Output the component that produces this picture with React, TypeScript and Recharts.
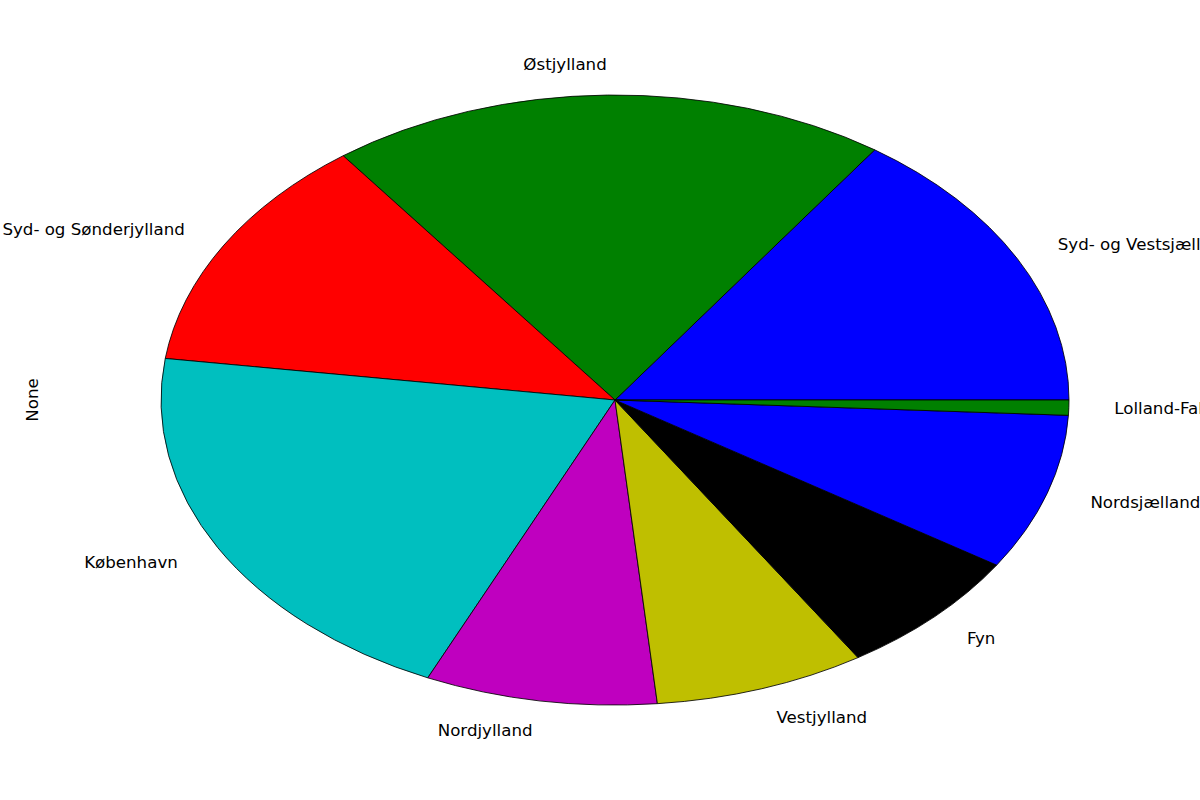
import React from 'react';
import { PieChart, Pie, Cell } from 'recharts';

const regions = [
    'Syd- og Vestsjælland',
    'Østjylland',
    'Syd- og Sønderjylland',
    'København',
    'Nordjylland',
    'Vestjylland',
    'Fyn',
    'Nordsjælland',
    'Lolland-Falster',
];
const shares = [15.3, 19.9, 12.6, 20.4, 8.25, 7.5, 6.9, 8.3, 0.8];
const colors = ['#0000ff', '#008000', '#ff0000', '#00bfbf', '#bf00bf', '#bfbf00', '#000000', '#0000ff', '#008000'];

const CX = 615;
const CY = 400;
const RX = 454;
const RY = 305;
const FONT = 'DejaVu Sans, sans-serif';
const NO_MARGIN = { top: 0, right: 0, bottom: 0, left: 0 };

const data = regions.map((name, i) => ({ name, value: shares[i] }));

// labels sit on an ellipse 1.1x the pie radius, like matplotlib's labeldistance
const EllipseLabel = (props: any) => {
    const rad = (props.midAngle * Math.PI) / 180;
    const x = CX + 1.1 * RX * Math.cos(rad);
    const y = CY - 1.1 * RY * Math.sin(rad);
    return (
        <text
            x={x}
            y={y}
            textAnchor={Math.cos(rad) > 0 ? 'start' : 'end'}
            dominantBaseline="central"
            fontFamily={FONT}
            fontSize={16.67}
            fill="#000"
        >
            {props.name}
        </text>
    );
};

export default function App() {
    return (
        <div style={{ position: 'absolute', left: 0, top: 0, width: 1200, height: 800, background: '#fff', overflow: 'hidden' }}>
            {/* circular pie squashed vertically into an ellipse */}
            <div
                style={{
                    position: 'absolute', left: 0, top: -100, width: 1200, height: 1000,
                    transform: `scaleY(${RY / RX})`, transformOrigin: '0px 500px',
                }}
            >
                <PieChart width={1200} height={1000} margin={NO_MARGIN}>
                    <Pie
                        data={data}
                        dataKey="value"
                        cx={CX}
                        cy={500}
                        innerRadius={0}
                        outerRadius={RX}
                        startAngle={0}
                        endAngle={360}
                        paddingAngle={0}
                        stroke="#000"
                        strokeWidth={1}
                        isAnimationActive={false}
                    >
                        {data.map((d, i) => (
                            <Cell key={d.name} fill={colors[i]} vectorEffect="non-scaling-stroke" />
                        ))}
                    </Pie>
                </PieChart>
            </div>
            <div style={{ position: 'absolute', left: 0, top: 0, width: 1200, height: 800 }}>
                <PieChart width={1200} height={800} margin={NO_MARGIN}>
                    <Pie
                        data={data}
                        dataKey="value"
                        cx={CX}
                        cy={CY}
                        outerRadius={RX}
                        startAngle={0}
                        endAngle={360}
                        fill="none"
                        stroke="none"
                        label={EllipseLabel}
                        labelLine={false}
                        isAnimationActive={false}
                    >
                        {data.map((d) => (
                            <Cell key={d.name} fill="none" stroke="none" />
                        ))}
                    </Pie>
                    <text
                        x={32}
                        y={CY}
                        transform={`rotate(-90 32 ${CY})`}
                        textAnchor="middle"
                        dominantBaseline="central"
                        fontFamily={FONT}
                        fontSize={16.67}
                        fill="#000"
                    >
                        None
                    </text>
                </PieChart>
            </div>
        </div>
    );
}
